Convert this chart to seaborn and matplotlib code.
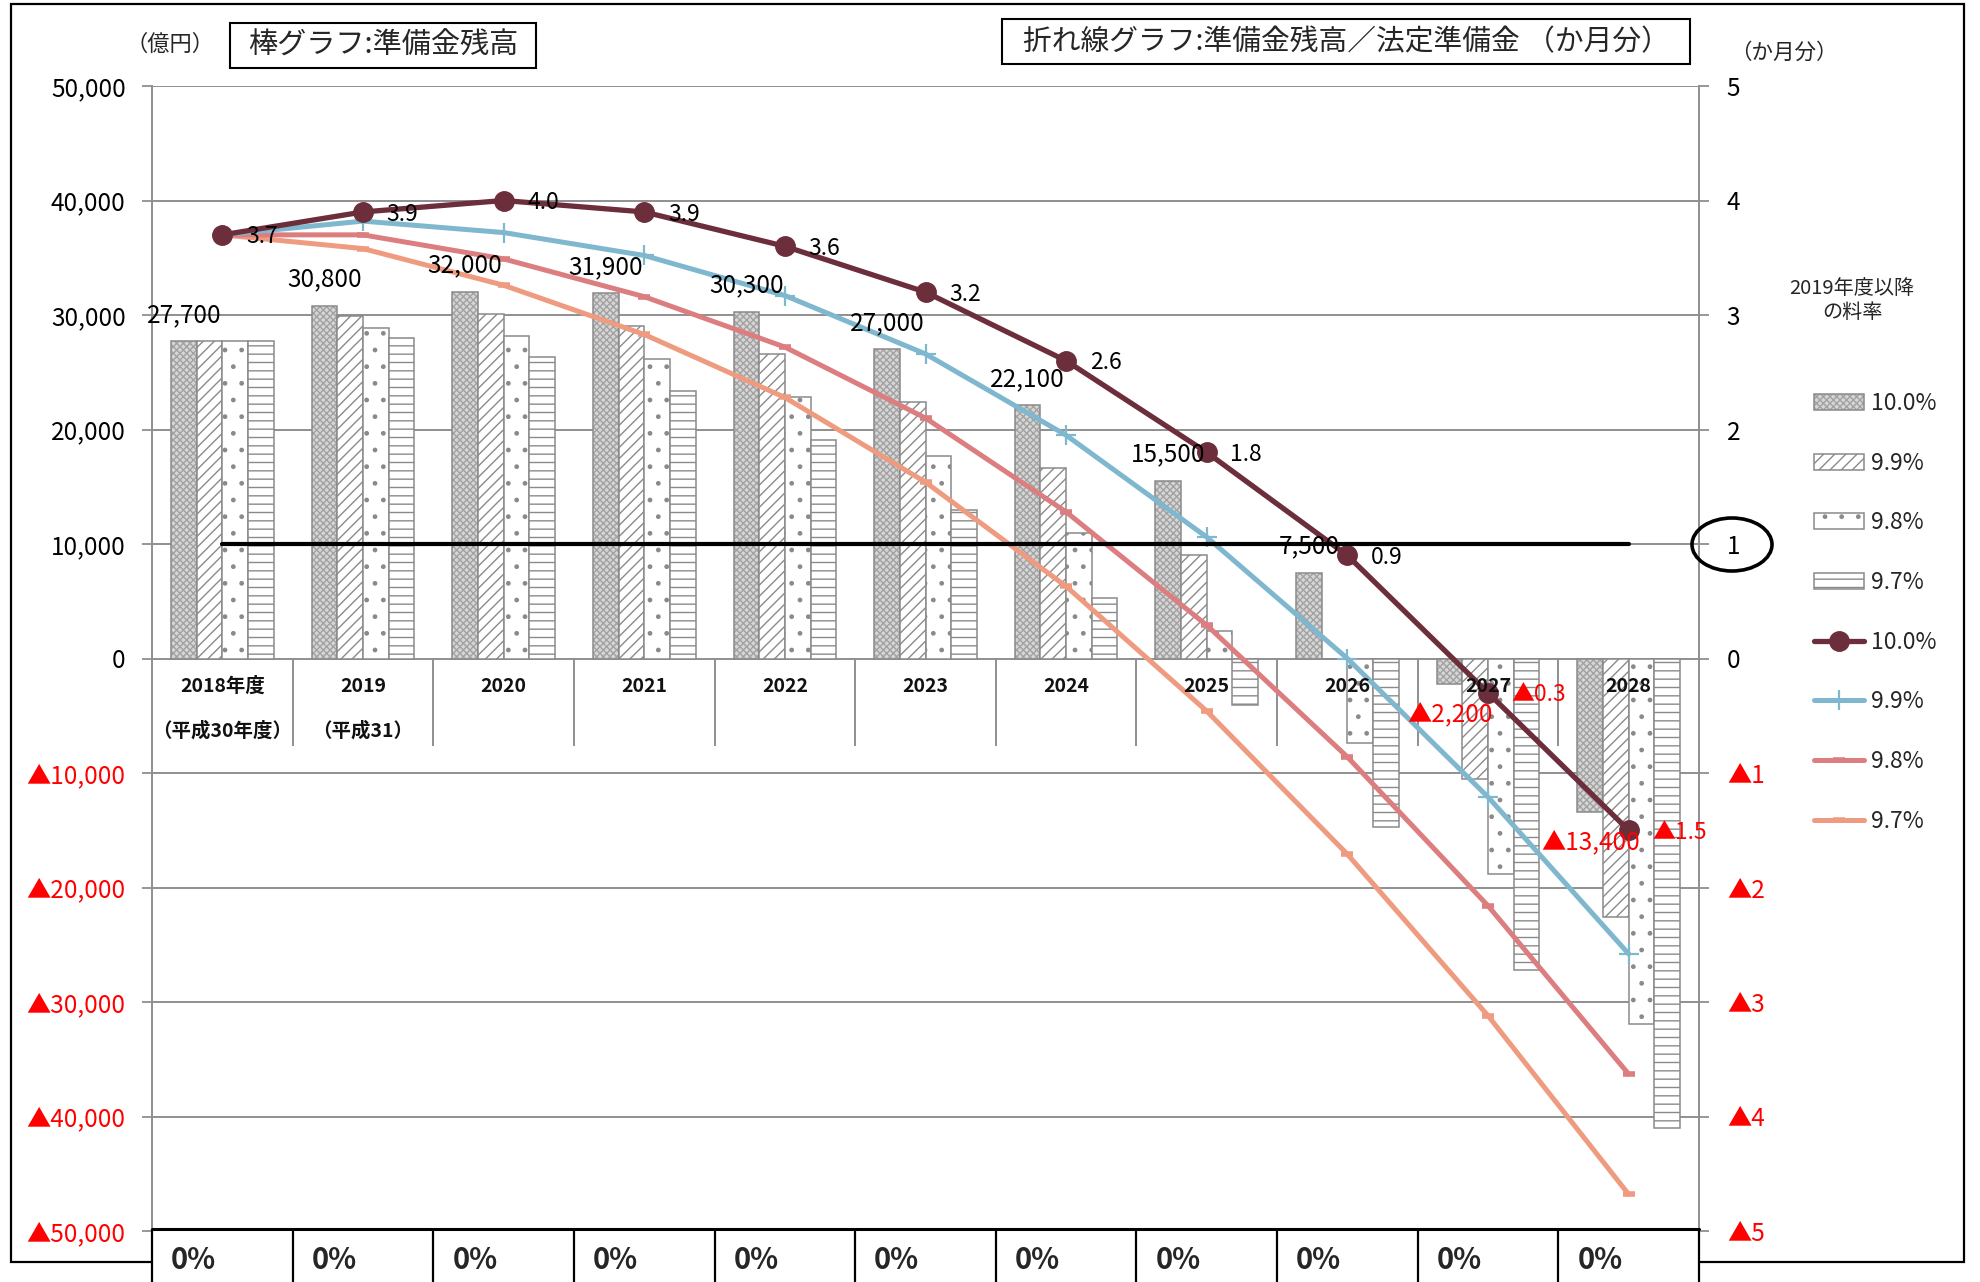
import numpy as np
import pandas as pd
import matplotlib
matplotlib.use("Agg")
import matplotlib.pyplot as plt
import matplotlib.colors as mcolors
import seaborn as sns
from matplotlib.patches import Rectangle, Ellipse, Patch
from matplotlib.lines import Line2D

# ---------------------------------------------------------------- data
years = ["2018", "2019", "2020", "2021", "2022", "2023",
         "2024", "2025", "2026", "2027", "2028"]
year_row1 = ["2018年度", "2019", "2020", "2021", "2022", "2023",
             "2024", "2025", "2026", "2027", "2028"]
year_row2 = ["（平成30年度）", "（平成31）", "", "", "", "", "", "", "", "", ""]
rates = ["10.0%", "9.9%", "9.8%", "9.7%"]

# 準備金残高（億円）
reserve_100 = [27700, 30800, 32000, 31900, 30300, 27000, 22100, 15500, 7500, -2200, -13400]
reserve_099 = [27700, 29900, 30100, 29000, 26600, 22400, 16600, 9000, 0, -10500, -22600]
reserve_098 = [27700, 28900, 28200, 26200, 22800, 17700, 11000, 2400, -7400, -18800, -31900]
reserve_097 = [27700, 28000, 26300, 23400, 19100, 13000, 5300, -4100, -14700, -27200, -41000]

# 準備金残高／法定準備金（か月分）
months_100 = [3.7, 3.9, 4.0, 3.9, 3.6, 3.2, 2.6, 1.8, 0.9, -0.3, -1.5]
months_099 = [3.7, 3.82, 3.72, 3.52, 3.17, 2.66, 1.95, 1.06, 0.0, -1.21, -2.58]
months_098 = [3.7, 3.70, 3.49, 3.16, 2.72, 2.10, 1.28, 0.29, -0.86, -2.16, -3.63]
months_097 = [3.7, 3.58, 3.26, 2.83, 2.28, 1.54, 0.63, -0.46, -1.71, -3.12, -4.68]

# 法定準備金（1か月分）
legal_months = [1.0, 1.0, 1.0, 1.0, 1.0, 1.0, 1.0, 1.0, 1.0, 1.0, 1.0]

# 料率の変化
rate_change = ["0%", "0%", "0%", "0%", "0%", "0%", "0%", "0%", "0%", "0%", "0%"]

# ---------------------------------------------------------------- styles
W, H, DPI = 1981, 1282, 100
GRID = "#8f8f8f"
BAR_EDGE = "#8a8a8a"
RED = "#ff0000"

bar_styles = {
    "10.0%": ("#d6d6d6", "xxxxx"),
    "9.9%": ("white", "///"),
    "9.8%": ("white", "."),
    "9.7%": ("white", "--"),
}
hatch_colors = {"10.0%": "#a2a2a2", "9.9%": BAR_EDGE,
                "9.8%": BAR_EDGE, "9.7%": BAR_EDGE}
line_colors = {"10.0%": "#6d2e3c", "9.9%": "#7fb7cf",
               "9.8%": "#dc7d80", "9.7%": "#ee9b80"}


def fx(px):
    return px / W


def fy(py):
    return 1 - py / H


def fmt_oku(v):
    return f"{v:,}" if v >= 0 else f"▲{-v:,}"


def fmt_month(m):
    return f"{m:.1f}" if m >= 0 else f"▲{-m:.1f}"


def style_bar(patch, rate):
    fc, hatch = bar_styles[rate]
    patch.set_facecolor(fc)
    patch.set_hatch(hatch)
    patch.set_edgecolor(BAR_EDGE)
    if hasattr(patch, "set_hatchcolor"):
        patch.set_hatchcolor(hatch_colors[rate])
    else:
        patch._hatch_color = mcolors.to_rgba(hatch_colors[rate])


sns.set_style("white")
plt.rcParams["font.family"] = ["Noto Sans CJK JP", "DejaVu Sans"]
plt.rcParams["hatch.linewidth"] = 1.0

fig = plt.figure(figsize=(W / DPI, H / DPI), dpi=DPI)
fig.patch.set_facecolor("white")

AX_L, AX_R, AX_T, AX_B = 152, 1699, 86, 1231
ax = fig.add_axes([fx(AX_L), fy(AX_B), (AX_R - AX_L) / W, (AX_B - AX_T) / H])

# ---------------------------------------------------------------- bars
df = pd.DataFrame({
    "year": years * 4,
    "rate": np.repeat(rates, len(years)),
    "value": reserve_100 + reserve_099 + reserve_098 + reserve_097,
})
sns.barplot(data=df, x="year", y="value", hue="rate", order=years,
            hue_order=rates, width=0.73, palette=["white"] * 4,
            saturation=1, edgecolor=BAR_EDGE, linewidth=1.1,
            errorbar=None, legend=False, ax=ax)

for rate, container in zip(rates, ax.containers):
    for bar in container:
        style_bar(bar, rate)

ax.set_xlim(-0.5, len(years) - 0.5)
ax.set_ylim(-50000, 50000)
yt = np.arange(-50000, 50001, 10000)
ax.set_yticks(yt, labels=[fmt_oku(int(v)) for v in yt])
for lbl, v in zip(ax.get_yticklabels(), yt):
    lbl.set_color(RED if v < 0 else "black")
ax.set_xticks([])
ax.set_xlabel("")
ax.set_ylabel("")
ax.tick_params(axis="y", direction="out", length=7, width=1.3,
               color=GRID, pad=12, labelsize=17.5)
ax.yaxis.grid(True, color=GRID, lw=1.4)
ax.set_axisbelow(True)
for side in ["top", "bottom", "right"]:
    ax.spines[side].set_visible(False)
ax.spines["left"].set_color(GRID)
ax.spines["left"].set_linewidth(1.4)

# category separators below the zero line
ax.vlines(np.arange(0.5, len(years) - 0.5, 1.0), -7600, 0, colors=GRID, lw=1.4)

# ---------------------------------------------------------------- lines
ax2 = ax.twinx()
x_pos = np.arange(len(years))
series = [("9.7%", months_097), ("9.8%", months_098),
          ("9.9%", months_099), ("10.0%", months_100)]
marker_kw = {
    "10.0%": dict(marker="o", markersize=14, markeredgewidth=1.0),
    "9.9%": dict(marker="+", markersize=14, markeredgewidth=1.6),
    "9.8%": dict(marker="_", markersize=8, markeredgewidth=4.0),
    "9.7%": dict(marker="_", markersize=8, markeredgewidth=4.0),
}
line_w = {"10.0%": 3.8, "9.9%": 3.6, "9.8%": 3.6, "9.7%": 3.6}
for rate, vals in series:
    c = line_colors[rate]
    sns.lineplot(x=x_pos, y=vals, ax=ax2, color=c, linewidth=line_w[rate],
                 markeredgecolor=c, markerfacecolor=c, **marker_kw[rate])

sns.lineplot(x=x_pos, y=legal_months, ax=ax2, color="black", linewidth=3.0)

ax2.set_ylim(-5, 5)
ax.set_xlim(-0.5, len(years) - 0.5)
mt = np.arange(-5, 6, 1)
ax2.set_yticks(mt, labels=[str(v) if v >= 0 else f"▲{-v}" for v in mt])
for lbl, v in zip(ax2.get_yticklabels(), mt):
    lbl.set_color(RED if v < 0 else "black")
ax2.set_ylabel("")
ax2.tick_params(axis="y", direction="out", length=7, width=1.3,
                color=GRID, pad=13, labelsize=17.5)
for side in ["top", "bottom", "left"]:
    ax2.spines[side].set_visible(False)
ax2.spines["right"].set_color(GRID)
ax2.spines["right"].set_linewidth(1.4)

# ---------------------------------------------------------------- labels
first_bar = -0.73 / 2 + 0.73 / 8
for i, v in enumerate(reserve_100):
    ax2.annotate(fmt_oku(v), xy=(i + first_bar, v), xycoords=ax.transData,
                 xytext=(0, 19 if v >= 0 else -22), textcoords="offset points",
                 ha="center", va="center", fontsize=17.5,
                 color="black" if v >= 0 else RED, zorder=20)

for i, m in enumerate(months_100):
    ax2.annotate(fmt_month(m), xy=(i, m), xytext=(17, -1.5),
                 textcoords="offset points", ha="left", va="center",
                 fontsize=16.5, color="black" if m >= 0 else RED, zorder=20)

for i, (t1, t2) in enumerate(zip(year_row1, year_row2)):
    ax2.annotate(t1, xy=(i, 0), xycoords=ax.transData, xytext=(0, -20),
                 textcoords="offset points", ha="center", va="center",
                 fontsize=14, fontweight="bold", color="#111111")
    if t2:
        ax2.annotate(t2, xy=(i, 0), xycoords=ax.transData, xytext=(0, -52),
                     textcoords="offset points", ha="center", va="center",
                     fontsize=14, fontweight="bold", color="#111111")

# ---------------------------------------------------------------- legend
handles = []
for rate in rates:
    p = Patch(lw=1.1)
    style_bar(p, rate)
    handles.append(p)
for rate in rates:
    c = line_colors[rate]
    handles.append(Line2D([], [], color=c, lw=line_w[rate], markeredgecolor=c,
                          markerfacecolor=c, **marker_kw[rate]))
leg = fig.legend(handles, rates + rates, loc="upper left",
                 bbox_to_anchor=(fx(1814), fy(392)), frameon=False,
                 fontsize=16.5, handlelength=2.2, handleheight=0.68,
                 handletextpad=0.3, labelspacing=1.6, borderpad=0,
                 borderaxespad=0)
for rate, lp in zip(rates, leg.get_patches()):
    style_bar(lp, rate)

fig.text(fx(1852), fy(289), "2019年度以降", ha="center", va="center", fontsize=14.5)
fig.text(fx(1852), fy(313), "の料率", ha="center", va="center", fontsize=14.5)

# ---------------------------------------------------------------- titles
fig.text(fx(170), fy(44), "（億円）", ha="center", va="center", fontsize=16)
fig.text(fx(1784), fy(53), "（か月分）", ha="center", va="center", fontsize=15.5)

fig.add_artist(Rectangle((fx(230), fy(68)), (536 - 230) / W, (68 - 23) / H,
                         transform=fig.transFigure, fc="white", ec="black",
                         lw=1.5, zorder=2))
fig.text(fx(383), fy(46), "棒グラフ:準備金残高", ha="center", va="center",
         fontsize=21, zorder=3)
fig.add_artist(Rectangle((fx(1002), fy(64)), (1690 - 1002) / W, (64 - 19) / H,
                         transform=fig.transFigure, fc="white", ec="black",
                         lw=1.5, zorder=2))
fig.text(fx(1346), fy(42), "折れ線グラフ:準備金残高／法定準備金 （か月分）",
         ha="center", va="center", fontsize=20.7, zorder=3)

# outer frame
fig.add_artist(Rectangle((fx(11), fy(1262)), (1964 - 11) / W, (1262 - 4) / H,
                         transform=fig.transFigure, fill=False, ec="black",
                         lw=1.6, zorder=1))

# circle around the 1-month level
fig.add_artist(Ellipse((fx(1732), fy(544.5)), 80 / W, 53 / H,
                       transform=fig.transFigure, fill=False, ec="black",
                       lw=2.6, zorder=10))

# ---------------------------------------------------------------- rate table
ax_t = fig.add_axes([fx(AX_L), 0, (AX_R - AX_L) / W, (H - 1229) / H])
ax_t.set_zorder(5)
ax_t.set_facecolor("white")
ax_t.set_xlim(-0.5, len(years) - 0.5)
ax_t.set_ylim(0, 1)
ax_t.set_xticks([])
ax_t.set_yticks([])
for s in ax_t.spines.values():
    s.set_visible(False)
ax_t.axhline(1, color="black", lw=2.2, clip_on=False)
ax_t.vlines(np.arange(-0.5, len(years), 1.0), 0, 1, colors="black", lw=1.6,
            clip_on=False)
for i, t in enumerate(rate_change):
    ax_t.text(i - 0.5 + 0.135, 0.415, t, ha="left", va="center",
              fontsize=21, fontweight="bold")

fig.savefig("out.png", dpi=DPI, facecolor="white")
